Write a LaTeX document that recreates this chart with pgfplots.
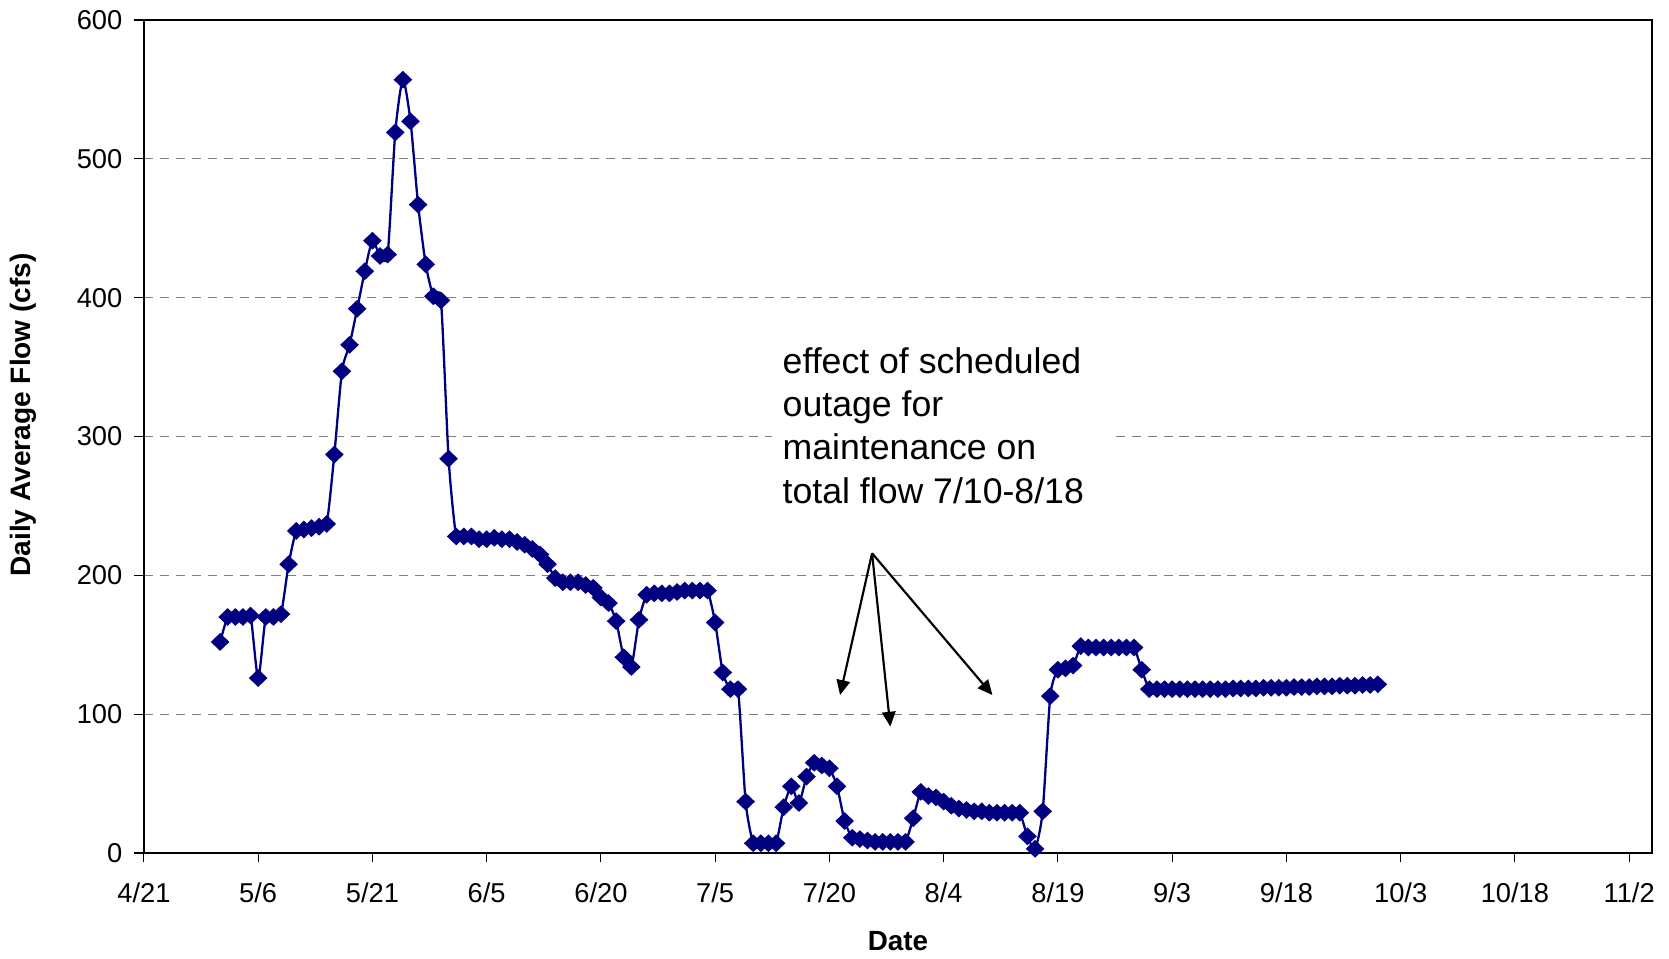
\documentclass[border=0pt]{standalone}
\usepackage{pgfplots}
\pgfplotsset{compat=1.18}
\usepackage{fontspec}
\setmainfont{Liberation Sans}
\usetikzlibrary{arrows.meta}
\definecolor{navyline}{RGB}{0,0,128}
\begin{document}
\begin{tikzpicture}
\path[use as bounding box] (-53.3pt,-38.9pt) rectangle (564.8pt,315.9pt);
\begin{axis}[
  at={(0,0)}, anchor=south west,
  scale only axis, width=558.5pt, height=308.5pt,
  xmin=0, xmax=198, ymin=0, ymax=600,
  xtick={0,15,...,195},
  xticklabels={4/21,5/6,5/21,6/5,6/20,7/5,7/20,8/4,8/19,9/3,9/18,10/3,10/18,11/2},
  ytick={0,100,...,600},
  tick pos=left, tick align=outside, major tick length=3.5pt,
  tick style={black, line width=0.4pt},
  axis line style={line width=0.85pt},
  ymajorgrids,
  major grid style={gray, line width=0.4pt, dash pattern=on 3.4pt off 2.5pt},
  tick label style={font=\fontsize{10.1}{12}\selectfont},
  /pgf/number format/assume math mode=true,
  xticklabel style={anchor=north, inner sep=0pt, yshift=-7.5pt},
  yticklabel style={anchor=east, inner sep=0pt, xshift=-4.3pt},
  xlabel={Date}, ylabel={Daily Average Flow (cfs)},
  every axis x label/.style={at={(axis description cs:0.5,0)}, yshift=-32.6pt, anchor=center, font=\bfseries\fontsize{10.3}{12}\selectfont},
  every axis y label/.style={at={(axis description cs:0,0.526)}, xshift=-44.6pt, rotate=90, anchor=center, font=\bfseries\fontsize{10.4}{12}\selectfont},
  clip=false,
]
\fill[white] (axis cs:82.4,250) rectangle (axis cs:126.9,372);
\addplot[navyline, line width=0.85pt, smooth, tension=0.4, mark=diamond*, mark size=2.7pt, mark options={solid, xscale=1.4}] coordinates {
(10,152) (11,170) (12,170) (13,170) (14,171) (15,126) (16,170) (17,170) (18,172) (19,208)
(20,232) (21,233) (22,234) (23,235) (24,237) (25,287) (26,347) (27,366) (28,392) (29,419)
(30,441) (31,430) (32,431) (33,519) (34,557) (35,527) (36,467) (37,424) (38,401) (39,398)
(40,284) (41,228) (42,228) (43,228) (44,226) (45,226) (46,227) (47,226) (48,226) (49,224)
(50,222) (51,219) (52,215) (53,208) (54,198) (55,195) (56,195) (57,195) (58,193) (59,191)
(60,184) (61,180) (62,167) (63,141) (64,134) (65,168) (66,186) (67,187) (68,187) (69,187)
(70,188) (71,189) (72,189) (73,189) (74,189) (75,166) (76,130) (77,118) (78,118) (79,37)
(80,7) (81,7) (82,7) (83,7) (84,33) (85,48) (86,36) (87,55) (88,65) (89,63)
(90,61) (91,48) (92,23) (93,11) (94,10) (95,9) (96,8) (97,8) (98,8) (99,8)
(100,8) (101,25) (102,44) (103,41) (104,40) (105,37) (106,34) (107,32) (108,31) (109,30)
(110,30) (111,29) (112,29) (113,29) (114,29) (115,29) (116,12) (117,3) (118,30) (119,113)
(120,132) (121,133) (122,135) (123,149) (124,148) (125,148) (126,148) (127,148) (128,148) (129,148)
(130,148) (131,132) (132,118) (133,118) (134,118) (135,118) (136,118) (137,118) (138,118) (139,118)
(140,118) (141,118) (142,118) (143,118.5) (144,118.5) (145,118.5) (146,118.5) (147,119) (148,119) (149,119)
(150,119) (151,119.5) (152,119.5) (153,119.5) (154,120) (155,120) (156,120) (157,120.5) (158,120.5) (159,120.5)
(160,121) (161,121) (162,121.5)
};
\node[anchor=base west, inner sep=0pt, font=\fontsize{13.2}{16}\selectfont] at (axis cs:83.8,345.5) {effect of scheduled};
\node[anchor=base west, inner sep=0pt, font=\fontsize{13.2}{16}\selectfont] at (axis cs:83.8,314.3) {outage for};
\node[anchor=base west, inner sep=0pt, font=\fontsize{13.2}{16}\selectfont] at (axis cs:83.8,283.6) {maintenance on};
\node[anchor=base west, inner sep=0pt, font=\fontsize{13.2}{16}\selectfont] at (axis cs:83.8,251.4) {total flow 7/10-8/18};
\draw[-{Triangle[length=5.5pt,width=5pt]}, line width=0.8pt] (axis cs:95.6,215.9) -- (axis cs:91.4,113.8);
\draw[-{Triangle[length=5.5pt,width=5pt]}, line width=0.8pt] (axis cs:95.6,215.9) -- (axis cs:98.0,91.0);
\draw[-{Triangle[length=5.5pt,width=5pt]}, line width=0.8pt] (axis cs:95.6,215.9) -- (axis cs:111.4,113.8);
\end{axis}
\end{tikzpicture}
\end{document}
